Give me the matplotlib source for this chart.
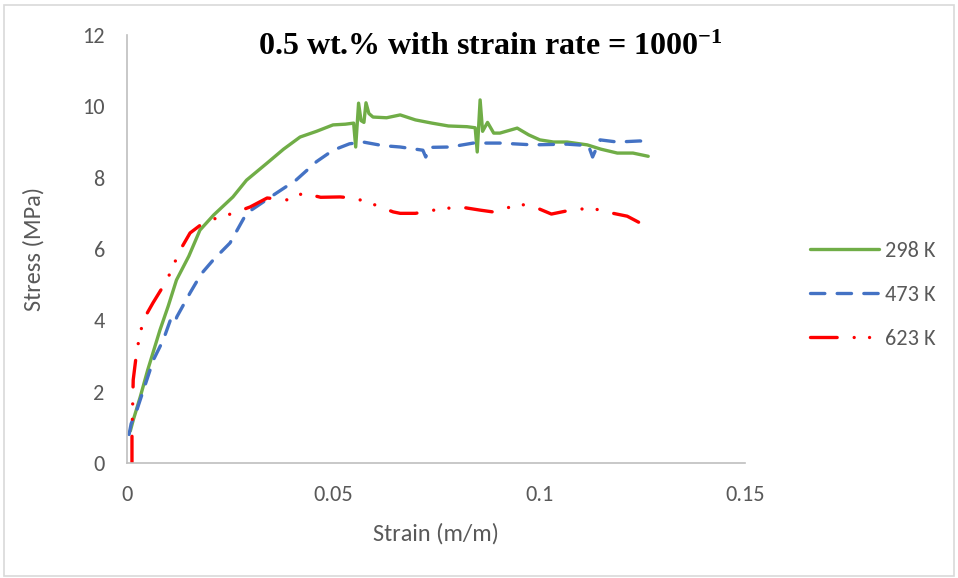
import matplotlib.pyplot as plt
from matplotlib.patches import Rectangle

plt.rcParams['font.family'] = ['Carlito', 'Liberation Sans Narrow', 'Open Sans', 'DejaVu Sans']
plt.rcParams['mathtext.fontset'] = 'custom'
plt.rcParams['mathtext.rm'] = 'Liberation Serif:bold'
plt.rcParams['mathtext.it'] = 'Liberation Serif:bold'

# 298 K
strain_298 = [0.0008, 0.0015, 0.0032, 0.005, 0.008, 0.010, 0.012, 0.015, 0.0177, 0.021,
              0.0257, 0.029, 0.034, 0.038, 0.042, 0.046, 0.050, 0.053, 0.055, 0.0555,
              0.0562, 0.0568, 0.0575, 0.058, 0.0587, 0.0597, 0.063, 0.0663, 0.070, 0.074,
              0.078, 0.0825, 0.0845, 0.0850, 0.0857, 0.0863, 0.0875, 0.089, 0.0905, 0.0947,
              0.0975, 0.1002, 0.1035, 0.1068, 0.1117, 0.115, 0.119, 0.1228, 0.1265]
stress_298 = [0.9, 1.2, 1.85, 2.6, 3.73, 4.4, 5.13, 5.8, 6.53, 6.95,
              7.46, 7.93, 8.41, 8.8, 9.14, 9.3, 9.48, 9.5, 9.53, 8.86,
              10.09, 9.6, 9.55, 10.1, 9.8, 9.7, 9.68, 9.76, 9.62, 9.53,
              9.45, 9.43, 9.4, 8.72, 10.18, 9.3, 9.55, 9.25, 9.25, 9.39,
              9.2, 9.06, 9.0, 9.0, 8.92, 8.8, 8.69, 8.69, 8.6]

# 473 K
strain_473 = [0.0005, 0.001, 0.0024, 0.0064, 0.0088, 0.0105, 0.0115, 0.0121, 0.0153, 0.018,
              0.0209, 0.025, 0.029, 0.0355, 0.041, 0.046, 0.050, 0.054, 0.0573, 0.062,
              0.0663, 0.0718, 0.0725, 0.0735, 0.0784, 0.084, 0.0905, 0.0985, 0.1068, 0.112,
              0.113, 0.1148, 0.119, 0.1245, 0.1262]
stress_473 = [0.8, 1.1, 1.49, 2.89, 3.45, 4.0, 3.9, 4.1, 4.77, 5.3,
              5.69, 6.17, 7.0, 7.51, 7.93, 8.45, 8.77, 8.95, 9.0, 8.9,
              8.86, 8.77, 8.58, 8.85, 8.86, 8.97, 8.97, 8.92, 8.94, 8.9,
              8.58, 9.06, 9.0, 9.03, 9.0]

# 623 K
strain_623 = [0.0012, 0.0012, 0.0015, 0.0024, 0.0039, 0.0063, 0.0097, 0.0129, 0.0153, 0.0185,
              0.0218, 0.0257, 0.0299, 0.034, 0.0396, 0.0427, 0.047, 0.0517, 0.0549, 0.0583,
              0.0646, 0.0663, 0.070, 0.076, 0.0808, 0.0857, 0.0888, 0.0922, 0.0954, 0.0995,
              0.103, 0.1068, 0.1124, 0.1148, 0.118, 0.1214, 0.126, 0.1265]
stress_623 = [0.0, 0.73, 2.33, 3.17, 4.0, 4.49, 5.13, 5.97, 6.45, 6.73,
              6.87, 7.0, 7.18, 7.43, 7.37, 7.57, 7.45, 7.46, 7.43, 7.32,
              7.04, 7.0, 7.0, 7.12, 7.18, 7.09, 7.04, 7.15, 7.26, 7.15,
              6.98, 7.07, 7.15, 7.09, 7.0, 6.92, 6.64, 6.62]

gray = '#595959'

fig = plt.figure(figsize=(9.58, 5.78), dpi=100)
ax = fig.add_axes([0.1326, 0.199, 0.6451, 0.7404])

# рамка навколо всього графіка, як у Excel
fig.patches.append(Rectangle((0.004, 0.004), 0.992, 0.988, transform=fig.transFigure,
                             fill=False, edgecolor='#D9D9D9', linewidth=1.2))

ax.plot(strain_298, stress_298, color='#70AD47', lw=2.4, label='298 K',
        solid_capstyle='round')
ax.plot(strain_473, stress_473, color='#4472C4', lw=2.4, label='473 K',
        linestyle=(0, (4.3, 3.7)), dash_capstyle='round')
ax.plot(strain_623, stress_623, color='#FF0000', lw=2.4, label='623 K',
        linestyle=(0, (8, 5.1, 0.01, 4.6, 0.01, 5.1)), dash_capstyle='round')

ax.set_xlim(0, 0.15)
ax.set_ylim(0, 12)
ax.set_xticks([0, 0.05, 0.1, 0.15])
ax.set_xticklabels(['0', '0.05', '0.1', '0.15'])
ax.set_yticks(range(0, 13, 2))

for s in ['top', 'right']:
    ax.spines[s].set_visible(False)
for s in ['left', 'bottom']:
    ax.spines[s].set_color('#BFBFBF')
    ax.spines[s].set_linewidth(1.2)
ax.tick_params(length=0, labelsize=16, colors=gray, pad=16)

ax.set_xlabel('Strain (m/m)', fontsize=17.5, color=gray, labelpad=13)
ax.set_ylabel('Stress (MPa)', fontsize=17.5, color=gray, labelpad=27)

fig.text(0.512, 0.918, r'0.5 wt.% with strain rate = 1000$^{-1}$',
         ha='center', va='center', fontsize=23, fontweight='bold',
         family='Liberation Serif')

leg = fig.legend(loc='center left', bbox_to_anchor=(0.8245, 0.49), frameon=False,
                 fontsize=16, handlelength=3.1, labelspacing=1.09, handletextpad=0.3)
for t in leg.get_texts():
    t.set_color(gray)

fig.savefig('out.png', dpi=100)
